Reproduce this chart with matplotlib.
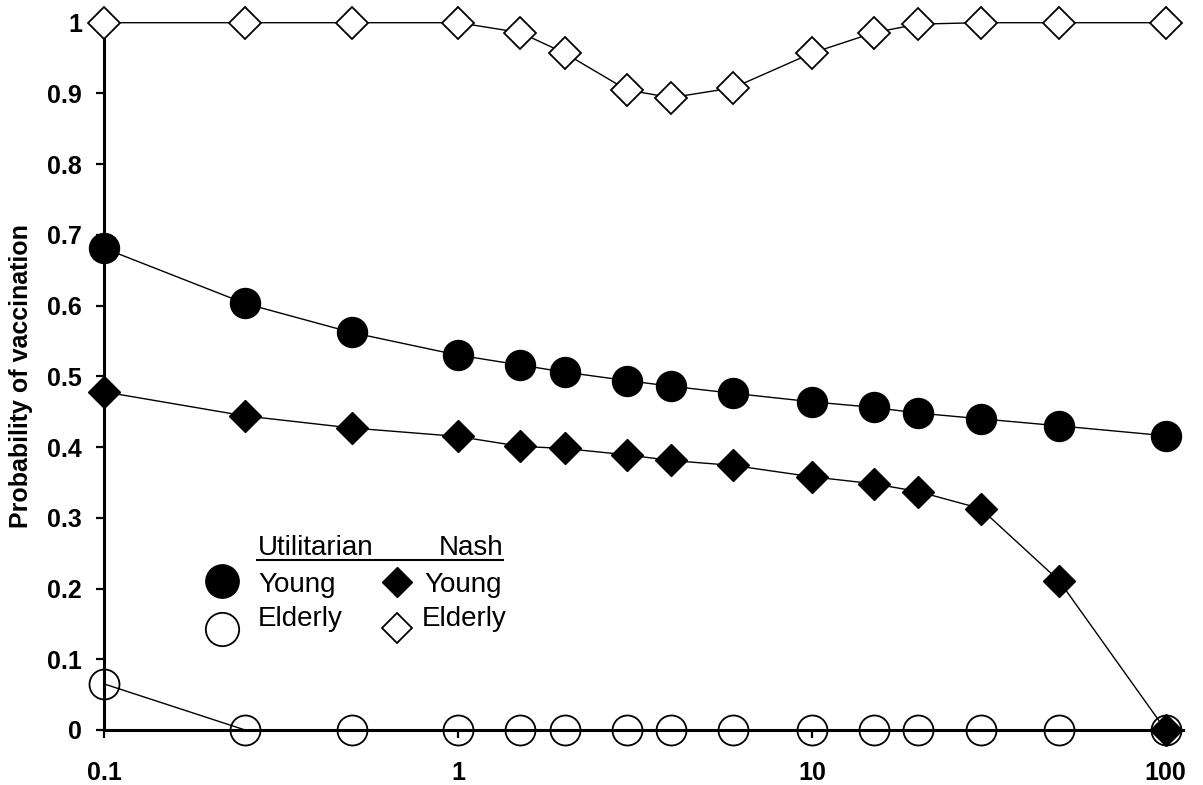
import numpy as np
import matplotlib
matplotlib.use('Agg')
import matplotlib.pyplot as plt

plt.rcParams['font.family'] = ['Liberation Sans', 'DejaVu Sans']

# cost ratio (log axis) and vaccination probabilities
x = [0.1, 0.25, 0.5, 1, 1.5, 2, 3, 4, 6, 10, 15, 20, 30, 50, 100]
util_young = [0.681, 0.603, 0.562, 0.530, 0.516, 0.506, 0.494, 0.486, 0.476,
              0.464, 0.456, 0.448, 0.440, 0.430, 0.416]
util_elderly = [0.065, 0, 0, 0, 0, 0, 0, 0, 0, 0, 0, 0, 0, 0, 0]
nash_young = [0.478, 0.444, 0.427, 0.415, 0.401, 0.398, 0.389, 0.381, 0.374,
              0.358, 0.348, 0.337, 0.313, 0.211, 0.0]
nash_elderly = [1, 1, 1, 1, 0.986, 0.957, 0.905, 0.894, 0.908,
                0.957, 0.986, 0.998, 1, 1, 1]

xticks = [0.1, 1, 10, 100]
xticklabels = ['0.1', '1', '10', '100']
yticks = [0, 0.1, 0.2, 0.3, 0.4, 0.5, 0.6, 0.7, 0.8, 0.9, 1]
yticklabels = ['0', '0.1', '0.2', '0.3', '0.4', '0.5', '0.6', '0.7', '0.8', '0.9', '1']

fig = plt.figure(figsize=(12.03, 7.85), dpi=100)
ax = fig.add_axes([0.0867, 0.0701, 0.8967, 0.901])

ax.plot(x, util_elderly, color='black', lw=1, marker='o', ms=21.6,
        mfc='none', mec='black', mew=1.3, clip_on=False, zorder=3)
ax.plot(x, util_young, color='black', lw=1, marker='o', ms=21.6,
        mfc='black', mec='black', clip_on=False, zorder=4)
ax.plot(x, nash_young, color='black', lw=1, marker='D', ms=15.8,
        mfc='black', mec='black', clip_on=False, zorder=5)
ax.plot(x, nash_elderly, color='black', lw=1, marker='D', ms=15.8,
        mfc='white', mec='black', mew=1.3, clip_on=False, zorder=5)

ax.set_xscale('log')
ax.set_xlim(0.1, 112)
ax.set_ylim(0, 1)
ax.set_xticks(xticks)
ax.set_xticklabels(xticklabels)
ax.minorticks_off()
ax.xaxis.set_minor_locator(matplotlib.ticker.NullLocator())
ax.set_yticks(yticks)
ax.set_yticklabels(yticklabels)

for s in ['top', 'right']:
    ax.spines[s].set_visible(False)
for s in ['left', 'bottom']:
    ax.spines[s].set_linewidth(2.2)
    ax.spines[s].set_zorder(2)

ax.tick_params(axis='both', direction='out', length=6, width=1.6,
               labelsize=18)
ax.tick_params(axis='x', pad=16)
ax.tick_params(axis='y', pad=10)
for lab in ax.get_xticklabels() + ax.get_yticklabels():
    lab.set_fontweight('bold')

ax.set_ylabel('Probability of vaccination', fontsize=18, fontweight='bold',
              labelpad=10)

# hand-made legend with underlined header
tr = ax.transAxes
ax.text(0.1425, 0.247, 'Utilitarian', transform=tr, fontsize=20, va='baseline')
ax.text(0.3696, 0.247, 'Nash', transform=tr, fontsize=20, va='baseline', ha='right')
ax.plot([0.142, 0.370], [0.240, 0.240], transform=tr, color='black', lw=1.5,
        clip_on=False)
ax.plot([0.109], [0.211], transform=tr, marker='o', ms=24, color='black',
        clip_on=False)
ax.plot([0.109], [0.143], transform=tr, marker='o', ms=24, mfc='none',
        mec='black', mew=1.3, clip_on=False)
ax.plot([0.271], [0.209], transform=tr, marker='D', ms=15.3, color='black',
        clip_on=False)
ax.plot([0.271], [0.144], transform=tr, marker='D', ms=15.3, mfc='white',
        mec='black', mew=1.3, clip_on=False)
ax.text(0.1425, 0.195, 'Young', transform=tr, fontsize=20, va='baseline')
ax.text(0.1425, 0.147, 'Elderly', transform=tr, fontsize=20, va='baseline')
ax.text(0.297, 0.195, 'Young', transform=tr, fontsize=20, va='baseline')
ax.text(0.2945, 0.147, 'Elderly', transform=tr, fontsize=20, va='baseline')

fig.savefig('out.png', dpi=100)
